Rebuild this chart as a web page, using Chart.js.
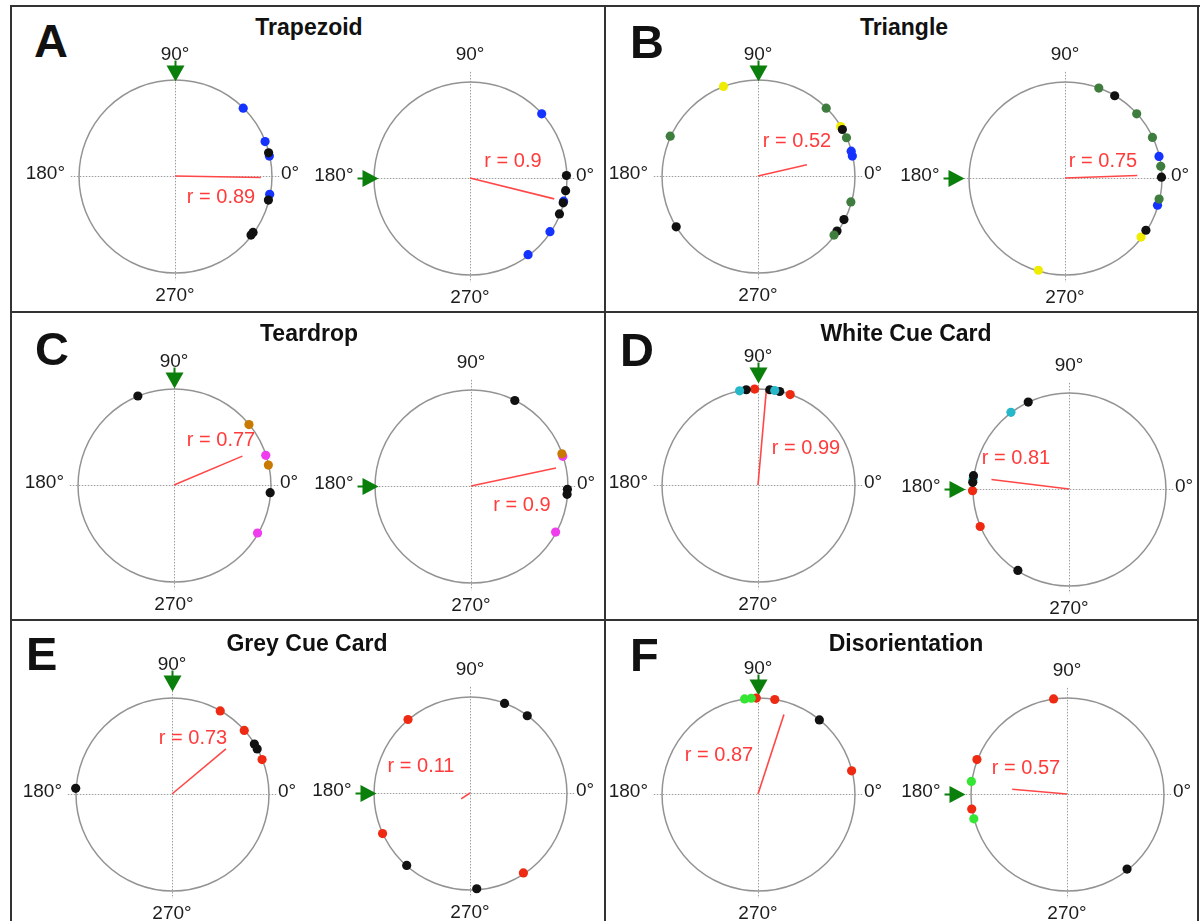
<!DOCTYPE html>
<html>
<head>
<meta charset="utf-8">
<script src="https://cdn.jsdelivr.net/npm/chart.js@4.4.1/dist/chart.umd.min.js"></script>
<style>
  html, body { margin: 0; padding: 0; background: #fff; }
  body { width: 1202px; height: 921px; overflow: hidden; position: relative; font-family: "Liberation Sans", Arial, sans-serif; }
  .rule { position: absolute; background: #333; z-index: 5; }
  .letter { position: absolute; font-weight: bold; font-size: 47px; line-height: 1; color: #111; }
  .title { position: absolute; width: 400px; text-align: center; font-weight: bold; font-size: 23px; line-height: 1; color: #111; }
  canvas { position: absolute; }
</style>
</head>
<body>
<script>
// panel text
const panelLetters = ["A", "B", "C", "D", "E", "F"];
const panelTitles = ["Trapezoid", "Triangle", "Teardrop", "White Cue Card", "Grey Cue Card", "Disorientation"];
const angleLabels = ["0°", "90°", "180°", "270°"];

// spike angles (deg, 0 = east, counter-clockwise), grouped by cell colour
// left plot of each panel: cue at 90°, right plot: cue at 180°
const trapezoid90 = { black: [14, -14.5, -36, -38], blue: [45, 21, 12, -11] };
const trapezoid180 = { black: [1.5, -7.6, -15, -22], blue: [42, -14, -34, -53] };
const triangle90 = { darkgreen: [155.5, 45, 23.5, -15.7, -38], black: [212, 29, -27, -35], yellow: [111, 31], blue: [12, 15] };
const triangle180 = { darkgreen: [69.5, 42, 25, 7, -12.7], black: [59, 0.5, -33], blue: [13, -16.5], yellow: [-38, 254] };
const teardrop90 = { black: [112, -4.6], orange: [39, 12], magenta: [18, -30] };
const teardrop180 = { black: [63, -2, -5], orange: [19.6], magenta: [18, -28.7] };
const white90 = { cyan: [101, 80], black: [97, 83, 77], red: [92, 70.5] };
const white180 = { black: [115, 172, 176, 238], cyan: [127, 174], red: [181, 203] };
const grey90 = { red: [60, 41.5, 21], black: [31.4, 28, 176.6] };
const grey180 = { black: [69, 53.6, 229, 274], red: [130, 205, 303.6] };
const disorient90 = { lime: [98, 94], red: [91, 80, 14], black: [50.5] };
const disorient180 = { red: [98, 159, 189], lime: [172.5, 195], black: [308.5] };

const dotsByPanel = [
  [trapezoid90, trapezoid180], [triangle90, triangle180], [teardrop90, teardrop180],
  [white90, white180], [grey90, grey180], [disorient90, disorient180]
];

// mean vector length and direction (deg)
const meanR = [[0.89, 0.9], [0.52, 0.75], [0.77, 0.9], [0.99, 0.81], [0.73, 0.11], [0.87, 0.57]];
const meanDeg = [[-1, -14], [13, 2], [23, 12], [85, 173], [40, 214], [72, 175]];

// ---- styles & layout ----
const dotColors = {
  black: "#111111", blue: "#1433ff", darkgreen: "#3f7d3f", yellow: "#f0ec00",
  orange: "#c87a00", magenta: "#ee3cee", cyan: "#26b7c9", red: "#ee2a12", lime: "#35e635"
};
const centers = [
  [[175, 176], [470, 178]], [[758, 176], [1065, 178]],
  [[174, 485], [471, 486]], [[758, 485], [1069, 489]],
  [[172, 794], [470, 793]], [[758, 794], [1067, 794]]
];
const arrowGap = [[-2, -5], [-2, 4], [0, -4], [5, 7], [6, -3], [2, 5]];
const rLabelOffset = [
  [[46, 20], [43, -18]], [[39, -36], [38, -18]],
  [[47, -46], [51, 18]], [[48, -38], [-53, -32]],
  [[21, -57], [-49, -28]], [[-39, -40], [-41, -27]]
];
const letterPos = [[34, 17], [630, 18], [35, 325], [620, 326], [26, 630], [630, 631]];
const titlePos = [[309, 16], [904, 16], [309, 322], [906, 322], [307, 632], [906, 632]];

const PX = 99;          // pixels per unit radius
const W = 360, H = 300; // canvas size per circle

const FONT = '"Liberation Sans", Arial, sans-serif';

const polarFrame = {
  id: 'polarFrame',
  beforeDatasetsDraw(chart, args, o) {
    const { ctx, scales: { x, y } } = chart;
    const cx = Math.round(x.getPixelForValue(0)), cy = Math.round(y.getPixelForValue(0));
    const R = x.getPixelForValue(1) - x.getPixelForValue(0);
    ctx.save();
    // dotted cross
    ctx.strokeStyle = '#9c9c9c';
    ctx.lineWidth = 1;
    ctx.setLineDash([1.5, 1.5]);
    ctx.beginPath();
    ctx.moveTo(cx - 1.08 * R, cy + 0.5); ctx.lineTo(cx + 1.08 * R, cy + 0.5);
    ctx.moveTo(cx + 0.5, cy - 1.1 * R); ctx.lineTo(cx + 0.5, cy + 1.08 * R);
    ctx.stroke();
    ctx.setLineDash([]);
    // circle
    ctx.strokeStyle = '#939393';
    ctx.lineWidth = 1.5;
    ctx.beginPath();
    ctx.arc(cx + 0.5, cy + 0.5, R, 0, Math.PI * 2);
    ctx.stroke();

    // cue arrow
    ctx.fillStyle = '#0b7f0b';
    let top90, right180;
    if (o.side === 0) {
      const tip = cy - R - o.gap;
      ctx.beginPath();
      ctx.moveTo(cx - 8.5, tip - 16); ctx.lineTo(cx + 9.5, tip - 16); ctx.lineTo(cx + 0.5, tip);
      ctx.closePath(); ctx.fill();
      ctx.fillRect(cx - 0.5, tip - 21, 2, 6);
      top90 = tip - 29;
      right180 = cx - 110;
    } else {
      const tip = cx - R - o.gap;
      ctx.beginPath();
      ctx.moveTo(tip - 16, cy - 8); ctx.lineTo(tip - 16, cy + 9); ctx.lineTo(tip, cy + 0.5);
      ctx.closePath(); ctx.fill();
      ctx.fillRect(tip - 21, cy - 0.5, 6, 2);
      top90 = cy - 125;
      right180 = tip - 25;
    }

    // degree labels
    ctx.fillStyle = '#1c1c1c';
    ctx.font = '19px ' + FONT;
    ctx.textBaseline = 'alphabetic';
    ctx.textAlign = 'center';
    ctx.fillText(angleLabels[1], cx, top90 + 7);
    ctx.fillText(angleLabels[3], cx, cy + 118 + 7);
    ctx.textAlign = 'right';
    ctx.fillText(angleLabels[2], right180, cy - 4 + 7);
    ctx.textAlign = 'left';
    ctx.fillText(angleLabels[0], cx + 106, cy - 4 + 7);
    ctx.restore();
  },
  afterDatasetsDraw(chart, args, o) {
    const { ctx, scales: { x, y } } = chart;
    const cx = x.getPixelForValue(0), cy = y.getPixelForValue(0);
    ctx.save();
    ctx.fillStyle = '#ff3b3b';
    ctx.font = '20px ' + FONT;
    ctx.textAlign = 'center';
    ctx.textBaseline = 'alphabetic';
    ctx.fillText('r = ' + o.r, cx + o.labelDx, cy + o.labelDy + 7);
    ctx.restore();
  }
};

function toXY(deg, len) {
  const a = deg * Math.PI / 180;
  return { x: len * Math.cos(a), y: len * Math.sin(a) };
}

function addRule(l, t, w, h) {
  const d = document.createElement('div');
  d.className = 'rule';
  Object.assign(d.style, { left: l + 'px', top: t + 'px', width: w + 'px', height: h + 'px' });
  document.body.appendChild(d);
}

// frame
addRule(10, 5, 1190, 2);
addRule(10, 5, 2, 916);
addRule(1197, 5, 2, 916);
addRule(604, 5, 2, 916);
addRule(10, 311, 1189, 2);
addRule(10, 619, 1189, 2);

panelLetters.forEach((letter, p) => {
  const el = document.createElement('div');
  el.className = 'letter';
  el.textContent = letter;
  el.style.left = letterPos[p][0] + 'px';
  el.style.top = letterPos[p][1] + 'px';
  document.body.appendChild(el);

  const t = document.createElement('div');
  t.className = 'title';
  t.textContent = panelTitles[p];
  t.style.left = (titlePos[p][0] - 200) + 'px';
  t.style.top = titlePos[p][1] + 'px';
  document.body.appendChild(t);

  for (let side = 0; side < 2; side++) {
    const [cx, cy] = centers[p][side];
    const cv = document.createElement('canvas');
    cv.width = W; cv.height = H;
    cv.style.left = (cx - W / 2) + 'px';
    cv.style.top = (cy - H / 2) + 'px';
    document.body.appendChild(cv);

    const groups = dotsByPanel[p][side];
    const datasets = Object.keys(groups).map(key => ({
      data: groups[key].map(d => toXY(d, 1)),
      backgroundColor: dotColors[key],
      borderWidth: 0,
      pointRadius: 4.6,
      order: 0
    }));
    datasets.push({
      data: [{ x: 0, y: 0 }, toXY(meanDeg[p][side], meanR[p][side])],
      showLine: true,
      borderColor: '#ff4747',
      borderWidth: 1.6,
      pointRadius: 0,
      order: 10
    });

    new Chart(cv, {
      type: 'scatter',
      data: { datasets: datasets },
      options: {
        responsive: false,
        animation: false,
        events: [],
        layout: { padding: 0 },
        scales: {
          x: { type: 'linear', display: false, min: -W / 2 / PX, max: W / 2 / PX },
          y: { type: 'linear', display: false, min: -H / 2 / PX, max: H / 2 / PX }
        },
        plugins: {
          legend: { display: false },
          tooltip: { enabled: false },
          polarFrame: {
            side: side,
            gap: arrowGap[p][side],
            r: meanR[p][side],
            labelDx: rLabelOffset[p][side][0],
            labelDy: rLabelOffset[p][side][1]
          }
        }
      },
      plugins: [polarFrame]
    });
  }
});
</script>
</body>
</html>
